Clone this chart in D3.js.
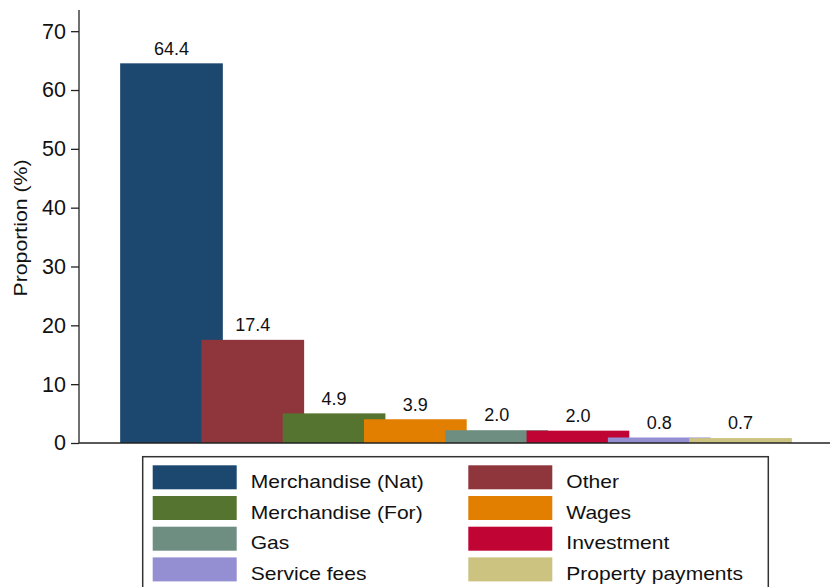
<!DOCTYPE html>
<html>
<head>
	<meta charset="utf-8">
	<script type="text/javascript" src="https://cdn.jsdelivr.net/npm/d3@7"></script>
	<title>Proportion by category</title>
	<style type="text/css">
		body { margin: 0; background: #fff; }
		text { font-family: "Liberation Sans", Arial, Helvetica, sans-serif; fill: #111; }
	</style>
</head>
<body>
	<script>
		// data
		var categories = ['Merchandise (Nat)', 'Other', 'Merchandise (For)', 'Wages',
			'Gas', 'Investment', 'Service fees', 'Property payments'];
		var values = [64.4, 17.4, 4.9, 3.9, 2.04, 1.96, 0.8, 0.7];
		var colors = ['#1c4870', '#8f363d', '#55742f', '#e27f00',
			'#6f8e82', '#c00535', '#948ed2', '#cbc37f'];
		var yTicks = [0, 10, 20, 30, 40, 50, 60, 70];

		var svgWidth = 830;
		var svgHeight = 587;
		var axisX = 79;
		var baseY = 443;

		var svg = d3.select('body')
			.append('svg')
			.attr('width', svgWidth)
			.attr('height', svgHeight);

		var yScale = d3.scaleLinear()
			.domain([0, 73.6])
			.range([baseY, 10]);

		// bars overlap each other (stata style), centres on a linear scale
		var xScale = d3.scaleLinear()
			.domain([0, categories.length - 1])
			.range([171.5, 740.5]);
		var barWidth = 102.7;

		svg.selectAll('rect.bar')
			.data(values)
			.enter()
			.append('rect')
				.attr('class', 'bar')
				.attr('x', function (d, i) { return xScale(i) - barWidth / 2; })
				.attr('y', function (d) { return yScale(d) - 0.8; })
				.attr('width', barWidth)
				.attr('height', function (d) { return baseY - yScale(d) + 0.8; })
				.attr('fill', function (d, i) { return colors[i]; });

		svg.selectAll('text.lbl')
			.data(values)
			.enter()
			.append('text')
				.attr('class', 'lbl')
				.attr('x', function (d, i) { return xScale(i); })
				.attr('y', function (d) { return yScale(d) - 9.5; })
				.attr('text-anchor', 'middle')
				.style('font-size', '18px')
				.text(function (d) { return d3.format('.1f')(d); });

		// y axis
		var yAxis = d3.axisLeft(yScale)
			.tickValues(yTicks)
			.tickSize(8)
			.tickPadding(5);

		var gy = svg.append('g')
			.attr('transform', 'translate(' + axisX + ',0)')
			.call(yAxis);
		gy.select('.domain').remove();
		gy.selectAll('.tick line').attr('stroke', '#222').attr('stroke-width', 1.3);
		gy.selectAll('.tick text')
			.style('font-size', '21.5px')
			.style('font-family', '"Liberation Sans", Arial, sans-serif')
			.attr('fill', '#111');

		svg.append('line')
			.attr('x1', axisX).attr('x2', axisX)
			.attr('y1', yScale.range()[1]).attr('y2', baseY)
			.attr('stroke', '#222').attr('stroke-width', 1.3);
		svg.append('line')
			.attr('x1', axisX).attr('x2', 830)
			.attr('y1', baseY).attr('y2', baseY)
			.attr('stroke', '#222').attr('stroke-width', 1.5);

		svg.append('text')
			.attr('transform', 'translate(27,228) rotate(-90) scale(1.15,1)')
			.attr('text-anchor', 'middle')
			.style('font-size', '18.5px')
			.text('Proportion (%)');

		// legend
		var legend = svg.append('g');
		legend.append('rect')
			.attr('x', 142.7).attr('y', 456.7)
			.attr('width', 625.6).attr('height', 160)
			.attr('fill', 'none')
			.attr('stroke', '#333')
			.attr('stroke-width', 1.5);

		var colX = [152.7, 468.3];
		var rowY = 465.3;
		var rowStep = 30.7;

		var items = legend.selectAll('g.item')
			.data(categories)
			.enter()
			.append('g')
				.attr('class', 'item')
				.attr('transform', function (d, i) {
					return 'translate(' + colX[i % 2] + ',' + (rowY + Math.floor(i / 2) * rowStep) + ')';
				});

		items.append('rect')
			.attr('width', 84)
			.attr('height', 24)
			.attr('fill', function (d, i) { return colors[i]; });

		items.append('text')
			.attr('transform', 'translate(98,22.5) scale(1.17,1)')
			.style('font-size', '18px')
			.text(function (d) { return d; });
	</script>
</body>
</html>
